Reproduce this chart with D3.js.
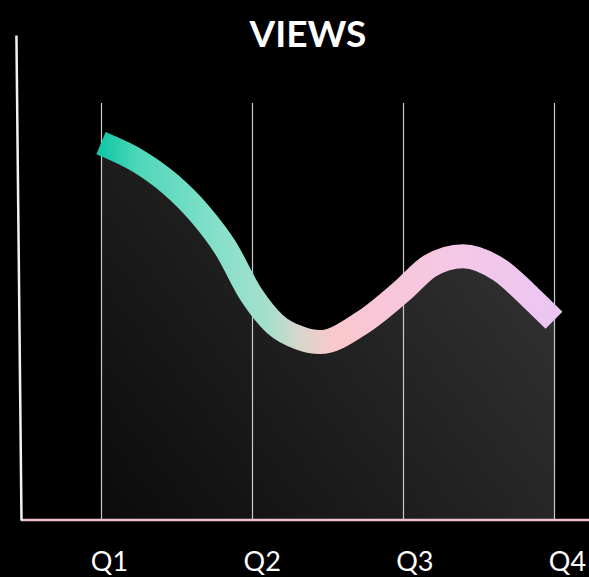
<!DOCTYPE html>
<html>
<head>
<meta charset="utf-8">
<script src="https://cdn.jsdelivr.net/npm/d3@7"></script>
<style>
  html, body { margin: 0; padding: 0; background: #000; }
  svg { display: block; }
</style>
</head>
<body>
<svg id="chart" width="589" height="577"></svg>
<script>
// ---- data ----
const title = "VIEWS";
const quarters = ["Q1", "Q2", "Q3", "Q4"];
const quarterIndex = [0, 1, 2, 3];
// position along the quarter axis (0 = Q1 ... 3 = Q4)
const viewsPos = [0, 0.258, 0.457, 0.656, 0.821, 1, 1.152, 1.318, 1.450, 1.735, 2, 2.179, 2.397, 2.642, 2.841, 3];
// views (relative units, 0-100)
const viewsVal = [77.7, 73.8, 69.3, 63.1, 56.3, 46.2, 40.4, 37.5, 36.7, 40.8, 47.4, 52.4, 54.4, 51.5, 46.0, 41.2];
const yDomain = [0, 100];
const gridTop = 86; // value at which vertical grid lines stop

const lineStops = [
  [0.00, "#12c7a6"], [0.08, "#4fd7ba"], [0.25, "#85e0c9"], [0.36, "#a5dfcd"],
  [0.43, "#d8d6cc"], [0.50, "#fac8cc"], [0.62, "#f8c6d8"], [0.76, "#f4c8e6"], [1.00, "#ebc6f4"]
];
const areaStops = [[0, "#0b0b0b"], [1, "#373737"]];

// ---- layout ----
const W = 589, H = 577;
const mLeft = 101, mRight = 554, mBottom = 520, mTop = 35;
const svg = d3.select("#chart");

const x = d3.scaleLinear().domain([0, 3]).range([mLeft, mRight]);
const y = d3.scaleLinear().domain(yDomain).range([mBottom, mTop]);
const xLabel = d3.scaleLinear().domain([0, 3]).range([109, 567]);

const data = viewsPos.map((p, i) => ({ p, v: viewsVal[i] }));

const defs = svg.append("defs");
const lg = defs.append("linearGradient").attr("id", "lineGrad")
  .attr("gradientUnits", "userSpaceOnUse")
  .attr("x1", mLeft).attr("y1", 0).attr("x2", mRight + 10).attr("y2", 0);
lineStops.forEach(([o, c]) => lg.append("stop").attr("offset", o).attr("stop-color", c));

const ag = defs.append("linearGradient").attr("id", "areaGrad")
  .attr("gradientUnits", "userSpaceOnUse")
  .attr("x1", mLeft).attr("y1", mBottom).attr("x2", mRight).attr("y2", y(74));
areaStops.forEach(([o, c]) => ag.append("stop").attr("offset", o).attr("stop-color", c));

// background
svg.append("rect").attr("width", W).attr("height", H).attr("fill", "#000");

// area
const area = d3.area().curve(d3.curveMonotoneX)
  .x(d => x(d.p)).y0(y(0)).y1(d => y(d.v));
svg.append("path").datum(data).attr("d", area).attr("fill", "url(#areaGrad)");

// vertical grid lines
const grid = svg.append("g").attr("transform", `translate(0,${mBottom})`)
  .call(d3.axisBottom(x).tickValues(quarterIndex).tickSize(-(y(0) - y(gridTop))).tickFormat(""));
grid.select(".domain").remove();
grid.selectAll(".tick line").attr("stroke", "#c9c9c9").attr("stroke-width", 1.2);

// line
const line = d3.line().curve(d3.curveMonotoneX).x(d => x(d.p)).y(d => y(d.v));
svg.append("path").datum(data).attr("d", line)
  .attr("fill", "none").attr("stroke", "url(#lineGrad)")
  .attr("stroke-width", 24).attr("stroke-linecap", "butt").attr("stroke-linejoin", "round");

// x axis line (pink)
svg.append("line").attr("x1", 21).attr("x2", W).attr("y1", mBottom).attr("y2", mBottom)
  .attr("stroke", "#efc3c9").attr("stroke-width", 2.5);

// y axis (white, slightly slanted)
const yAx = svg.append("g").attr("transform", `rotate(-0.6, 21, ${mBottom}) translate(21,0)`)
  .call(d3.axisLeft(y).tickValues([]).tickSizeOuter(0));
yAx.select(".domain").attr("stroke", "#f2f2f2").attr("stroke-width", 2.5);

// quarter labels
const lab = svg.append("g").attr("transform", `translate(0,${mBottom})`)
  .call(d3.axisBottom(xLabel).tickValues(quarterIndex).tickSize(0).tickPadding(32)
    .tickFormat(i => quarters[i]));
lab.select(".domain").remove();
lab.selectAll("text").attr("fill", "#fff").attr("font-family", "Lato, 'Open Sans', sans-serif")
  .attr("font-size", 27).attr("font-weight", 400);

// title
svg.append("text").attr("x", 308).attr("y", 47).attr("text-anchor", "middle")
  .attr("fill", "#fff").attr("font-family", "Lato, 'Open Sans', sans-serif")
  .attr("font-weight", 700).attr("font-size", 37).text(title);
</script>
</body>
</html>
